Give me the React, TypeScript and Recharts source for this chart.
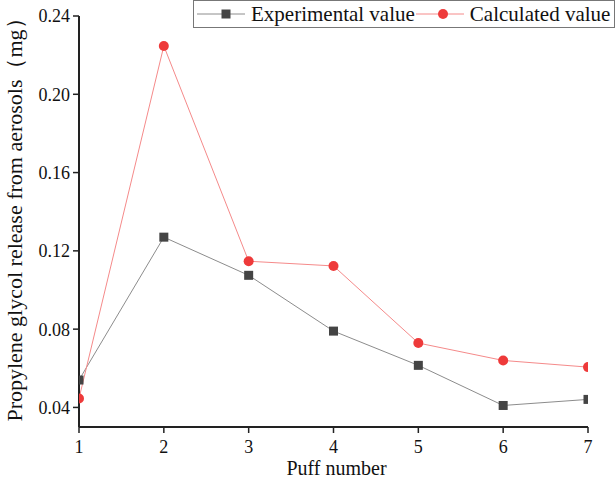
import React from 'react';
import { LineChart, Line, XAxis, YAxis, Legend, Label } from 'recharts';

const puffs = [1, 2, 3, 4, 5, 6, 7];
const experimental = [0.054, 0.127, 0.1075, 0.079, 0.0615, 0.041, 0.0441];
const calculated = [0.0446, 0.2247, 0.1147, 0.1123, 0.0729, 0.064, 0.0606];
const yTicks = [0.04, 0.08, 0.12, 0.16, 0.2, 0.24];
const xTicks = [1, 2, 3, 4, 5, 6, 7];

const data = puffs.map((p, i) => ({ puff: p, exp: experimental[i], calc: calculated[i] }));

const FONT = '"Liberation Serif", "Times New Roman", serif';
const AXIS = '#222';
const EXP_LINE = '#8c8c8c';
const EXP_DOT = '#444444';
const CALC_LINE = '#f58a8a';
const CALC_DOT = '#ee3a3a';

const SquareDot = (props: any) => {
  const { cx, cy, index } = props;
  if (cx == null || cy == null) return <g key={`s${index}`} />;
  return <rect key={`s${index}`} x={cx - 4.5} y={cy - 4.5} width={9} height={9} fill={EXP_DOT} />;
};

const CircleDot = (props: any) => {
  const { cx, cy, index } = props;
  if (cx == null || cy == null) return <g key={`c${index}`} />;
  return <circle key={`c${index}`} cx={cx} cy={cy} r={5} fill={CALC_DOT} />;
};

const LegendBox = () => (
  <div
    style={{
      border: '1px solid #777',
      background: '#fff',
      display: 'flex',
      alignItems: 'center',
      height: 28,
      width: 422,
      boxSizing: 'border-box',
      fontFamily: FONT,
      fontSize: 21,
      color: '#111',
      whiteSpace: 'nowrap',
      overflow: 'visible',
    }}
  >
    <svg width={48} height={20} style={{ marginLeft: 3, flex: 'none' }}>
      <line x1={0} y1={10} x2={48} y2={10} stroke={EXP_LINE} strokeWidth={1} />
      <rect x={24.5} y={5.5} width={9} height={9} fill={EXP_DOT} />
    </svg>
    <span style={{ marginLeft: 6, flex: 'none' }}>Experimental value</span>
    <svg width={48} height={20} style={{ marginLeft: 1, flex: 'none' }}>
      <line x1={0} y1={10} x2={48} y2={10} stroke={CALC_LINE} strokeWidth={1} />
      <circle cx={27} cy={10} r={5} fill={CALC_DOT} />
    </svg>
    <span style={{ marginLeft: 6, flex: 'none' }}>Calculated value</span>
  </div>
);

export default function App() {
  return (
    <div style={{ position: 'absolute', left: 0, top: 0, width: 616, height: 480, background: '#fff' }}>
      <LineChart
        width={616}
        height={480}
        data={data}
        margin={{ top: 16, right: 28, left: 0, bottom: 0 }}
      >
        <XAxis
          dataKey="puff"
          type="number"
          domain={[1, 7]}
          ticks={xTicks}
          allowDataOverflow
          height={53}
          axisLine={{ stroke: AXIS, strokeWidth: 2 }}
          tickLine={{ stroke: AXIS, strokeWidth: 1.5 }}
          tickSize={6}
          tick={{ fill: '#111', fontSize: 18, fontFamily: FONT }}
          tickMargin={7}
        >
          <Label
            content={({ viewBox }: any) => (
              <text
                x={viewBox.x + viewBox.width / 2 + 3}
                y={475}
                textAnchor="middle"
                fontFamily={FONT}
                fontSize={20}
                fill="#111"
              >
                Puff number
              </text>
            )}
          />
        </XAxis>
        <YAxis
          type="number"
          domain={[0.03, 0.24]}
          ticks={yTicks}
          allowDataOverflow
          width={79}
          axisLine={{ stroke: AXIS, strokeWidth: 2 }}
          tickLine={{ stroke: AXIS, strokeWidth: 1.5 }}
          tickSize={6}
          tickMargin={3}
          tick={{ fill: '#111', fontSize: 18, fontFamily: FONT }}
          tickFormatter={(v: number) => v.toFixed(2)}
        >
          <Label
            content={({ viewBox }: any) => {
              const cx = 14;
              const cy = viewBox.y + viewBox.height / 2 - 7;
              return (
                <text
                  x={cx}
                  y={cy}
                  transform={`rotate(-90, ${cx}, ${cy})`}
                  textAnchor="middle"
                  dominantBaseline="central"
                  fontFamily={FONT}
                  fontSize={22}
                  fill="#111"
                >
                  Propylene glycol release from aerosols（mg）
                </text>
              );
            }}
          />
        </YAxis>
        <Legend
          verticalAlign="middle"
          align="center"
          layout="horizontal"
          content={() => <LegendBox />}
          wrapperStyle={{ position: 'absolute', top: 0, left: 193, right: 'auto', bottom: 'auto', width: 422, height: 28 }}
        />
        <Line
          type="linear"
          dataKey="exp"
          name="Experimental value"
          stroke={EXP_LINE}
          strokeWidth={1}
          dot={SquareDot}
          activeDot={false}
          isAnimationActive={false}
        />
        <Line
          type="linear"
          dataKey="calc"
          name="Calculated value"
          stroke={CALC_LINE}
          strokeWidth={1}
          dot={CircleDot}
          activeDot={false}
          isAnimationActive={false}
        />
      </LineChart>
    </div>
  );
}
